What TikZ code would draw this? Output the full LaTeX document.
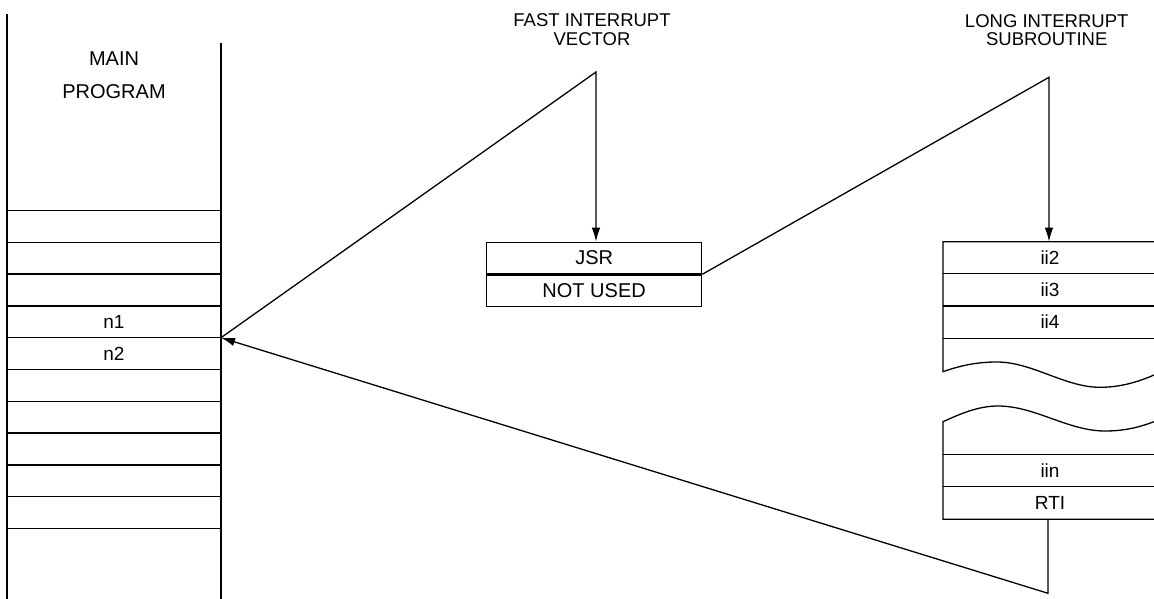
\documentclass[tikz,border=0pt]{standalone}
\usepackage{fontspec}
\setmainfont{Liberation Sans}
\usetikzlibrary{arrows.meta}
\begin{document}
\begin{tikzpicture}[x=1pt,y=-1pt,
  ln/.style={line width=1.3pt,black},
  arr/.style={ln,-{Latex[length=14pt,width=8.5pt]}},
  cell/.style={draw,line width=1.3pt,minimum width=215pt,minimum height=31.3pt,inner sep=0pt,font=\fontsize{20}{22}\selectfont},
  lbl/.style={inner sep=0pt,font=\fontsize{19}{22}\selectfont},
  ttl/.style={inner sep=0pt,align=center,font=\fontsize{18.5}{18.4}\selectfont}]
\useasboundingbox (0,0) rectangle (1154,599);
% main program column
\draw[ln] (7,14) -- (7,599);
\draw[ln] (221,43) -- (221,599);
\foreach \y in {210.5,242.3,274.1,305.9,337.7,369.5,401.3,433.1,464.9,496.7,528.5}
  \draw[ln] (7,\y) -- (221,\y);
\node[inner sep=0pt,align=center,font=\fontsize{20}{32.6}\selectfont] (main) at (114,75) {MAIN\\PROGRAM};
\node[lbl] (n1) at (114,321.8) {n1};
\node[lbl] (n2) at (114,353.6) {n2};
\coordinate (mp) at (221,337.7);
% fast interrupt vector
\node[ttl] (fiv) at (592,29.5) {FAST INTERRUPT\\VECTOR};
\node[cell,anchor=north west] (jsr) at (486,241.7) {JSR};
\node[cell,anchor=north west] (nu) at (jsr.south west) {NOT USED};
\coordinate (fapex) at (596,72);
% long interrupt subroutine
\node[ttl] (lis) at (1046.7,30) {LONG INTERRUPT\\SUBROUTINE};
\coordinate (lapex) at (1049,77.3);
\draw[ln] (1154,241.7) -- (943,241.7) -- (943,371.7)
  .. controls (962,365) and (978,362) .. (997,362)
  .. controls (1032,362) and (1065,387.3) .. (1100,387.3)
  .. controls (1122,387.3) and (1140,381) .. (1154,375);
\foreach \y in {273.5,306,338.3} \draw[ln] (943,\y) -- (1154,\y);
\node[lbl] (ii2) at (1050,257.6) {ii2};
\node[lbl] (ii3) at (1050,289.8) {ii3};
\node[lbl] (ii4) at (1050,322.1) {ii4};
\draw[ln] (1154,421.7)
  .. controls (1140,427) and (1125,431) .. (1105,431)
  .. controls (1068,431) and (1035,406) .. (998,406)
  .. controls (978,406) and (960,414) .. (943,421.7)
  -- (943,519.3) -- (1154,519.3);
\draw[ln] (943,454.3) -- (1154,454.3);
\draw[ln] (943,486.7) -- (1154,486.7);
\node[lbl] (iin) at (1050,470.5) {iin};
\node[lbl] (rti) at (1050,503) {RTI};
\coordinate (rtib) at (1048,519.3);
\coordinate (lowc) at (1048,593.3);
% connectors
\draw[arr] (mp) -- (fapex) -- (fapex |- jsr.north);
\draw[arr] (jsr.south east) -- (lapex) -- (1049,241.7);
\draw[arr] (rtib) -- (lowc) -- (mp);
\end{tikzpicture}
\end{document}
